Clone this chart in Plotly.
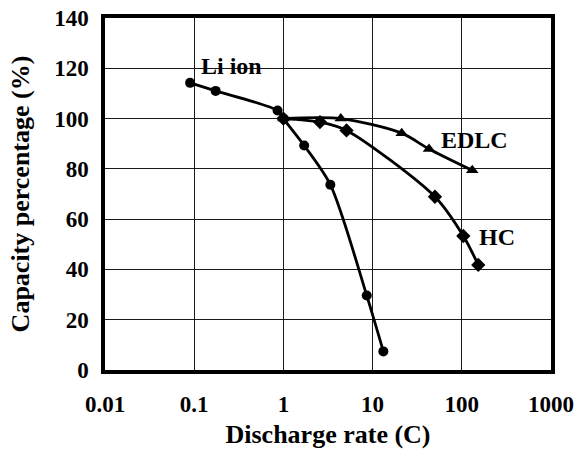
import math
import plotly.graph_objects as go

# Discharge rate (C) and retained capacity (%) for each cell type
li_rate = [0.09, 0.174, 0.86, 1.0, 1.71, 3.36, 8.6, 13.2]
li_cap = [114.2, 111.0, 103.2, 100.0, 89.3, 73.7, 29.6, 7.4]

edlc_rate = [1.0, 4.4, 21.2, 42.9, 131]
edlc_cap = [100.0, 100.0, 94.2, 87.9, 79.4]

hc_rate = [1.0, 2.57, 5.1, 50, 104, 153]
hc_cap = [100.0, 98.6, 95.3, 68.9, 53.3, 41.8]

x_tick_vals = [0.01, 0.1, 1, 10, 100, 1000]
x_tick_text = ["0.01", "0.1", "1", "10", "100", "1000"]
y_tick_vals = [0, 20, 40, 60, 80, 100, 120, 140]

FONT = "Liberation Serif"
line_style = dict(color="black", width=2.8, shape="spline", smoothing=0.8)

fig = go.Figure()
fig.add_trace(go.Scatter(x=li_rate, y=li_cap, mode="lines+markers", name="Li ion",
                         line=line_style,
                         marker=dict(symbol="circle", size=10, color="black")))
fig.add_trace(go.Scatter(x=hc_rate, y=hc_cap, mode="lines+markers", name="HC",
                         line=line_style,
                         marker=dict(symbol="diamond", size=11, color="black")))
fig.add_trace(go.Scatter(x=edlc_rate, y=edlc_cap, mode="lines+markers", name="EDLC",
                         line=line_style,
                         marker=dict(symbol="triangle-up", size=11, color="black")))

# Series labels (annotation x on a log axis is given in log10 units)
label_font = dict(family=FONT, size=24, color="black", weight="bold")
for txt, xv, yv in [("Li ion", 0.26, 121.0),
                    ("EDLC", 140, 91.5),
                    ("HC", 250, 53.0)]:
    fig.add_annotation(x=math.log10(xv), y=yv, xref="x", yref="y", text=txt,
                       showarrow=False, font=label_font,
                       xanchor="center", yanchor="middle")

tick_font = dict(family=FONT, size=23, color="black", weight="bold")
title_font = dict(family=FONT, size=26, color="black", weight="bold")

fig.update_layout(
    width=579, height=449,
    margin=dict(l=105, r=28, t=18, b=79),
    paper_bgcolor="white", plot_bgcolor="white",
    showlegend=False,
    font=dict(family=FONT, color="black"),
)
fig.update_xaxes(
    type="log", range=[-2, 3], automargin=False,
    tickvals=x_tick_vals, ticktext=x_tick_text,
    tickfont=tick_font,
    ticks="", ticklabelstandoff=11,
    showgrid=True, gridcolor="#1a1a1a", gridwidth=1,
    showline=True, linecolor="black", linewidth=3.5, mirror=True,
    title=dict(text="Discharge rate (C)", font=title_font, standoff=10),
)
fig.update_yaxes(
    range=[0, 140], tickvals=y_tick_vals, automargin=False,
    tickfont=tick_font,
    ticks="", ticklabelstandoff=8,
    showgrid=True, gridcolor="#1a1a1a", gridwidth=1, zeroline=False,
    showline=True, linecolor="black", linewidth=3.5, mirror=True,
    title=dict(text="Capacity percentage (%)", font=title_font, standoff=18),
)

fig.write_html("out.html")
